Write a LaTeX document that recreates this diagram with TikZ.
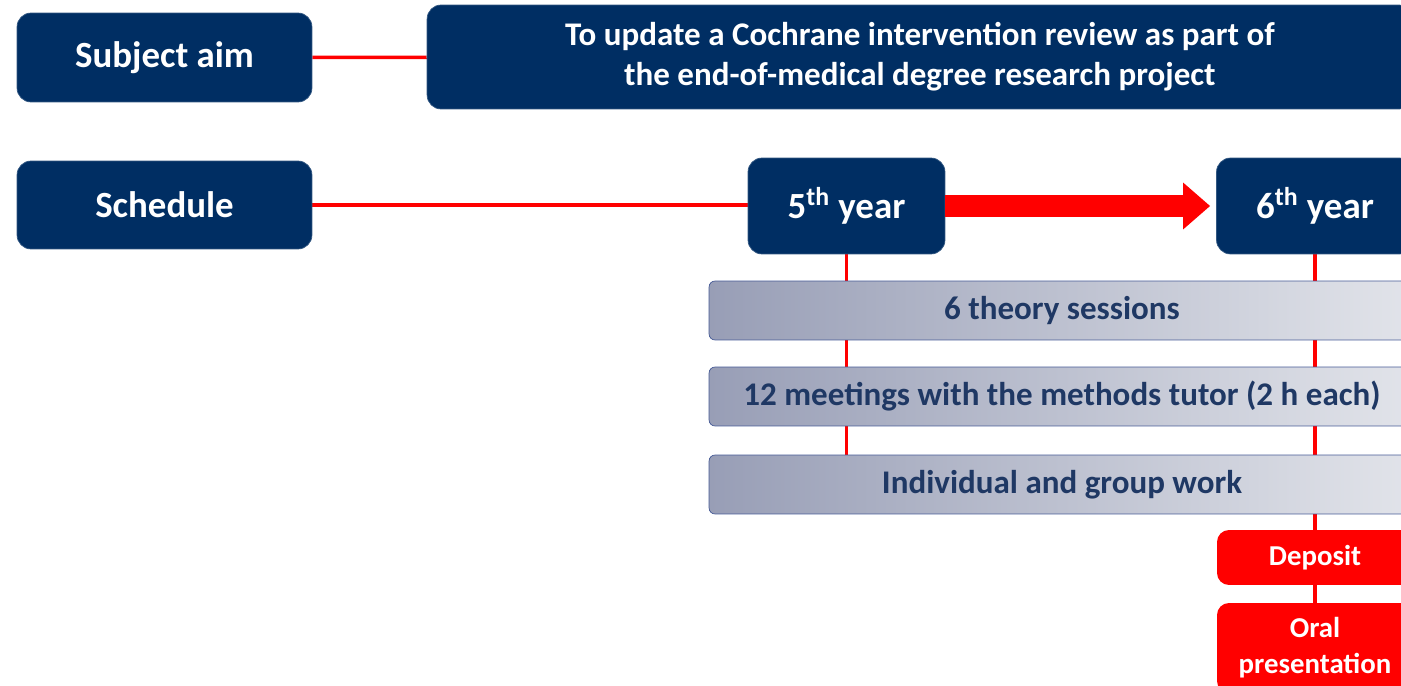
\documentclass[tikz,border=0pt]{standalone}
\usepackage{fontspec}
\setmainfont{Carlito}
\usetikzlibrary{arrows.meta,backgrounds}
\definecolor{navy}{RGB}{0,46,99}
\definecolor{bartext}{RGB}{31,56,100}
\definecolor{barleft}{RGB}{152,158,182}
\definecolor{barright}{RGB}{226,228,234}
\definecolor{barline}{RGB}{70,90,150}
\definecolor{signal}{RGB}{255,0,0}
\begin{document}
\begin{tikzpicture}[x=0.02cm, y=-0.02cm,
        head/.style={rectangle, fill=navy, draw=navy!80!white, rounded corners=0.28cm, text=white, font=\bfseries\fontsize{21}{25}\selectfont, align=center, inner sep=0pt},
        bar/.style={rectangle, draw=barline, thin, rounded corners=0.12cm, left color=barleft, right color=barright, text=bartext, font=\bfseries\fontsize{18.8}{22}\selectfont, minimum width=14.12cm, minimum height=1.18cm, inner sep=0pt},
        milestone/.style={rectangle, fill=signal, rounded corners=0.24cm, text=white, font=\bfseries\fontsize{16.4}{20.4}\selectfont, align=center, minimum width=3.92cm, inner sep=0pt},
        link/.style={draw=signal, line width=0.07cm}
      ]
      \useasboundingbox (0,0) rectangle (1401,686);
      \clip (0,0) rectangle (1401,686);

      % Left headings
      \node[head, minimum width=5.9cm, minimum height=1.78cm] (aim) at (164.5,57.5) {Subject aim};
      \node[head, minimum width=5.9cm, minimum height=1.76cm] (sched) at (164.5,205) {Schedule};

      % Aim text
      \node[head, minimum width=19.72cm, minimum height=2.08cm, font=\bfseries\fontsize{18.8}{22.7}\selectfont] (goal) at (920,57) {To update a Cochrane intervention review as part of\\the end-of-medical degree research project};

      % Years
      \node[head, minimum width=3.94cm, minimum height=1.92cm] (y5) at (846.5,206) {5\textsuperscript{th} year};
      \node[head, minimum width=3.94cm, minimum height=1.92cm] (y6) at (1315,206) {6\textsuperscript{th} year};

      % Activities
      \node[bar] (theory) at (1062,310.5) {6 theory sessions};
      \node[bar] (tutor) at (1062,396.5) {12 meetings with the methods tutor (2 h each)};
      \node[bar] (work) at (1062,484.5) {Individual and group work};

      % Final steps
      \node[milestone, minimum height=1.1cm] (deposit) at (1315,557.5) {Deposit};
      \node[milestone, minimum height=1.8cm] (oral) at (1315,648) {Oral\\presentation};

      % Connections
      \begin{scope}[on background layer]
      \draw[link] (aim) -- (goal);
      \draw[link] (sched.east) -- (y5.west |- sched.east);
      \draw[link] (y5.south) -- (y5.south |- work.north);
      \draw[link] (y6.south) -- (deposit.north);
      \draw[link] (deposit) -- (oral);
      \end{scope}

      \draw[signal, line width=0.46cm, -{Triangle[length=0.54cm, width=0.9cm]}, shorten >=0.12cm] (y5.east) -- (y6.west);
    \end{tikzpicture}
\end{document}
